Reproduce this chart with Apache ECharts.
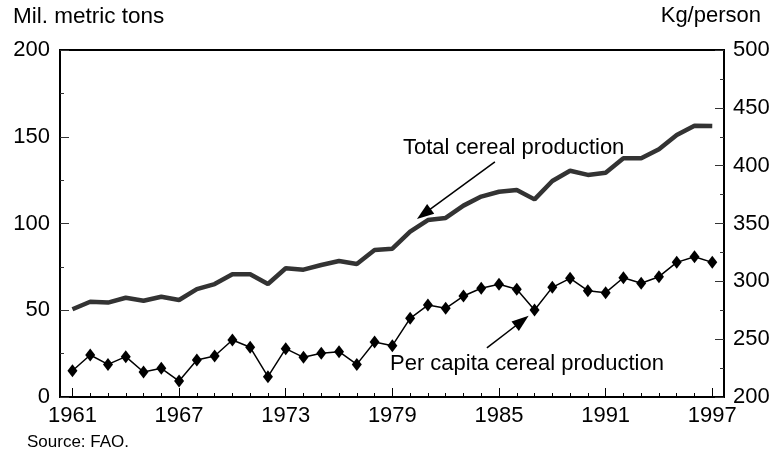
<!DOCTYPE html>
<html>
<head>
<meta charset="utf-8">
<script src="https://cdn.jsdelivr.net/npm/echarts@6/dist/echarts.min.js"></script>
<style>
  html, body { margin: 0; padding: 0; background: #fff; }
  #chart { width: 774px; height: 458px; }
</style>
</head>
<body>
<div id="chart"></div>
<script>
// years 1961-1997
var years = [1961,1962,1963,1964,1965,1966,1967,1968,1969,1970,1971,1972,1973,1974,1975,1976,1977,1978,1979,
  1980,1981,1982,1983,1984,1985,1986,1987,1988,1989,1990,1991,1992,1993,1994,1995,1996,1997];
// total cereal production, mil. metric tons (left axis)
var totalProd = [50.6,54.9,54.4,57.2,55.5,57.8,55.9,62.2,65.1,70.7,70.7,65.1,74.2,73.4,76.1,78.4,76.7,84.7,85.5,
  95.3,102.0,103.2,110.3,115.5,118.3,119.3,113.9,124.5,130.4,128.0,129.3,137.6,137.6,142.8,151.0,156.4,156.2];
// per capita cereal production, kg/person (right axis)
var perCapita = [222.7,236.3,228.2,234.9,221.6,224.8,213.8,232.0,235.4,249.3,243.0,217.6,241.8,234.3,237.8,239.2,228.2,247.5,244.4,
  268.0,279.5,276.7,287.3,294.0,297.4,293.1,275.2,294.8,302.6,291.9,290.2,303.1,298.3,304.0,316.4,321.3,316.4];
var yearLabels = [1961,1967,1973,1979,1985,1991,1997];

var FONT = 'Liberation Sans, Arial, sans-serif';

function pairs(vals) {
  return years.map(function (y, i) { return [y, vals[i]]; });
}

var chart = echarts.init(document.getElementById('chart'));
chart.setOption({
  animation: false,
  grid: {
    left: 60, right: 50, top: 50, bottom: 61,
    show: true, borderColor: '#000', borderWidth: 2
  },
  xAxis: [
    {
      type: 'value', min: 1960.3, max: 1997.66,
      axisLine: { show: true, lineStyle: { color: '#000', width: 2 } },
      axisTick: { show: true, inside: true, length: 9, customValues: yearLabels, lineStyle: { color: '#000' } },
      axisLabel: {
        customValues: yearLabels, color: '#000', fontSize: 22, fontFamily: FONT, margin: 8,
        formatter: function (v) { return String(v); }
      },
      splitLine: { show: false }
    },
    {
      // one small tick per year
      type: 'value', min: 1960.3, max: 1997.66, position: 'bottom',
      axisLine: { show: false },
      axisTick: { show: true, inside: true, length: 4, customValues: years, lineStyle: { color: '#000' } },
      axisLabel: { show: false },
      splitLine: { show: false }
    }
  ],
  yAxis: [
    {
      type: 'value', min: 0, max: 200, interval: 50, position: 'left',
      axisLine: { show: true, lineStyle: { color: '#000', width: 2 } },
      axisTick: { show: true, inside: true, length: 9, lineStyle: { color: '#333' } },
      minorTick: { show: true, splitNumber: 2, length: 4, lineStyle: { color: '#333' } },
      axisLabel: { color: '#000', fontSize: 22, fontFamily: FONT, margin: 10 },
      splitLine: { show: false }
    },
    {
      type: 'value', min: 200, max: 500, interval: 50, position: 'right',
      axisLine: { show: true, lineStyle: { color: '#000', width: 2 } },
      axisTick: { show: true, inside: true, length: 9, lineStyle: { color: '#333' } },
      minorTick: { show: true, splitNumber: 2, length: 4, lineStyle: { color: '#333' } },
      axisLabel: { color: '#000', fontSize: 22, fontFamily: FONT, margin: 9 },
      splitLine: { show: false }
    }
  ],
  series: [
    {
      name: 'Total cereal production',
      type: 'line',
      xAxisIndex: 0, yAxisIndex: 0,
      data: pairs(totalProd),
      showSymbol: false,
      lineStyle: { color: '#333', width: 4.5 },
      markLine: {
        silent: true,
        symbolSize: [12, 17],
        label: { show: false },
        lineStyle: { color: '#000', width: 1.5, type: 'solid' },
        data: [[
          { coord: [1984.77, 135.5], symbol: 'none' },
          { coord: [1980.77, 105.5], symbol: 'triangle' }
        ]]
      }
    },
    {
      name: 'Per capita cereal production',
      type: 'line',
      xAxisIndex: 0, yAxisIndex: 1,
      data: pairs(perCapita),
      symbol: 'diamond',
      symbolSize: [10, 13],
      itemStyle: { color: '#000' },
      lineStyle: { color: '#000', width: 1.5 },
      markLine: {
        silent: true,
        symbolSize: [12, 17],
        label: { show: false },
        lineStyle: { color: '#000', width: 1.5, type: 'solid' },
        data: [[
          { coord: [1984.32, 242.4], symbol: 'none' },
          { coord: [1986.29, 265.7], symbol: 'triangle' }
        ]]
      }
    }
  ],
  graphic: [
    { type: 'text', left: 13, top: 5, style: { text: 'Mil. metric tons', font: '22.5px ' + FONT, fill: '#000' } },
    { type: 'text', right: 13, top: 5, style: { text: 'Kg/person', font: '22px ' + FONT, fill: '#000' } },
    { type: 'text', left: 403, top: 137, style: { text: 'Total cereal production', font: '22px ' + FONT, fill: '#000' } },
    { type: 'text', left: 390, top: 353, style: { text: 'Per capita cereal production', font: '22px ' + FONT, fill: '#000' } },
    { type: 'text', left: 27, top: 434, style: { text: 'Source: FAO.', font: '17px ' + FONT, fill: '#000' } }
  ]
});
</script>
</body>
</html>
